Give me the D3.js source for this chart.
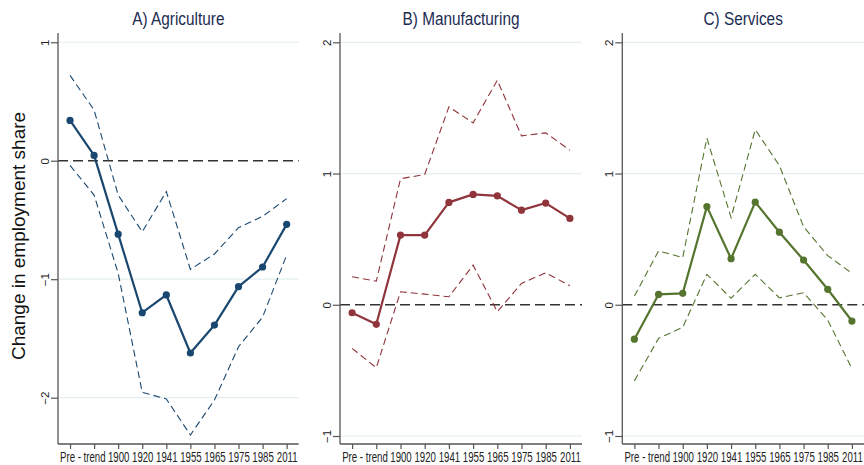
<!DOCTYPE html>
<html>
<head>
<meta charset="utf-8">
<script src="https://cdn.jsdelivr.net/npm/d3@7"></script>
<style>
  html, body { margin: 0; padding: 0; background: #fff; }
  svg { display: block; }
</style>
</head>
<body>
<svg id="chart" width="864" height="465"></svg>
<script>
// ---- data ----
const categories = ["Pre -", "trend", "1900", "1920", "1941", "1955", "1965", "1975", "1985", "2011"];

const agriculture      = [0.34, 0.045, -0.62, -1.283, -1.133, -1.623, -1.387, -1.063, -0.897, -0.537];
const agricultureUpper = [0.72, 0.428, -0.29, -0.60, -0.26, -0.917, -0.787, -0.565, -0.47, -0.32];
const agricultureLower = [-0.04, -0.29, -0.95, -1.955, -2.01, -2.315, -2.02, -1.57, -1.32, -0.796];

const manufacturing      = [-0.061, -0.149, 0.531, 0.531, 0.78, 0.841, 0.83, 0.721, 0.775, 0.658];
const manufacturingUpper = [0.213, 0.18, 0.96, 0.993, 1.508, 1.386, 1.711, 1.287, 1.31, 1.178];
const manufacturingLower = [-0.332, -0.48, 0.099, 0.081, 0.061, 0.302, -0.053, 0.163, 0.244, 0.145];

const services      = [-0.262, 0.079, 0.087, 0.748, 0.351, 0.782, 0.553, 0.341, 0.118, -0.124];
const servicesUpper = [0.066, 0.41, 0.36, 1.27, 0.664, 1.334, 1.061, 0.595, 0.374, 0.24];
const servicesLower = [-0.58, -0.256, -0.172, 0.232, 0.05, 0.232, 0.053, 0.092, -0.117, -0.486];

const panelTitles = ["A) Agriculture", "B) Manufacturing", "C) Services"];
const yTicksA = [1, 0, -1, -2];
const yTicksBC = [2, 1, 0, -1];
const yTitle = "Change in employment share";

// ---- layout ----
const panels = [
  { title: panelTitles[0], est: agriculture, up: agricultureUpper, lo: agricultureLower,
    color: "#1a476f", x0: 58, x1: 298.7, yDomain: [-2.391, 1.078], ticks: yTicksA },
  { title: panelTitles[1], est: manufacturing, up: manufacturingUpper, lo: manufacturingLower,
    color: "#90353b", x0: 340, x1: 582, yDomain: [-1.061, 2.071], ticks: yTicksBC },
  { title: panelTitles[2], est: services, up: servicesUpper, lo: servicesLower,
    color: "#55752f", x0: 622.3, x1: 864, yDomain: [-1.061, 2.071], ticks: yTicksBC }
];
const yTop = 33, yBottom = 444;
const regular = "'Liberation Sans', Arial, sans-serif";

const svg = d3.select("#chart");

// y-axis title
svg.append("text")
  .attr("transform", `translate(25,236) rotate(-90)`)
  .attr("text-anchor", "middle")
  .style("font-family", regular)
  .style("font-size", "19px")
  .style("fill", "#111")
  .text(yTitle);

panels.forEach(p => {
  const idx = d3.range(1, categories.length + 1);
  const x = d3.scaleLinear().domain([0.5, categories.length + 0.5]).range([p.x0, p.x1]);
  const y = d3.scaleLinear().domain(p.yDomain).range([yBottom, yTop]);
  const g = svg.append("g");

  // title (condensed)
  g.append("text")
    .attr("transform", `translate(${(p.x0 + p.x1) / 2},25) scale(0.83,1)`)
    .attr("text-anchor", "middle")
    .style("font-family", regular)
    .style("font-size", "18.5px")
    .style("fill", "#1c2c52")
    .text(p.title);

  // grid lines
  g.selectAll(".grid").data(p.ticks.filter(t => t !== 0)).join("line")
    .attr("x1", p.x0).attr("x2", p.x1)
    .attr("y1", d => y(d)).attr("y2", d => y(d))
    .attr("stroke", "#e4eef0").attr("stroke-width", 1.2);

  // zero reference line
  g.append("line")
    .attr("x1", p.x0).attr("x2", p.x1)
    .attr("y1", y(0)).attr("y2", y(0))
    .attr("stroke", "#333").attr("stroke-width", 1.6)
    .attr("stroke-dasharray", "10,5");

  // confidence bands (dashed)
  const line = d3.line().x((d, i) => x(i + 1)).y(d => y(d));
  [p.up, p.lo].forEach(arr => {
    g.append("path").datum(arr)
      .attr("d", line)
      .attr("fill", "none")
      .attr("stroke", p.color)
      .attr("stroke-width", 1.1)
      .attr("stroke-dasharray", "7,4");
  });

  // estimate line
  g.append("path").datum(p.est)
    .attr("d", line)
    .attr("fill", "none")
    .attr("stroke", p.color)
    .attr("stroke-width", 2.2)
    .attr("stroke-linejoin", "round");

  g.selectAll(".pt").data(p.est).join("circle")
    .attr("cx", (d, i) => x(i + 1))
    .attr("cy", d => y(d))
    .attr("r", 3.6)
    .attr("fill", p.color);

  // y axis
  const ya = g.append("g").attr("transform", `translate(${p.x0},0)`)
    .call(d3.axisLeft(y).tickValues(p.ticks).tickSize(7).tickFormat(d3.format("d")));
  ya.select(".domain").attr("d", `M0,${yTop}V${yBottom}`).attr("stroke", "#555").attr("stroke-width", 1.3);
  ya.selectAll(".tick line").attr("stroke", "#555").attr("stroke-width", 1.2);
  ya.selectAll(".tick text")
    .attr("x", 0).attr("y", -9.5).attr("dy", 0)
    .attr("text-anchor", "middle")
    .attr("transform", "rotate(-90)")
    .style("font-family", regular)
    .style("font-size", "11.5px")
    .style("fill", "#222");

  // x axis
  const xa = g.append("g").attr("transform", `translate(0,${yBottom})`)
    .call(d3.axisBottom(x).tickValues(idx).tickSize(5).tickPadding(3)
      .tickFormat(d => categories[d - 1]));
  xa.select(".domain").attr("d", `M${p.x0},0H${p.x1}`).attr("stroke", "#555").attr("stroke-width", 1.3);
  xa.selectAll(".tick line").attr("stroke", "#555").attr("stroke-width", 1.2);
  xa.selectAll(".tick text")
    .attr("transform", "scale(0.69,1)")
    .style("font-family", regular)
    .style("font-size", "14px")
    .style("fill", "#222");
});
</script>
</body>
</html>
